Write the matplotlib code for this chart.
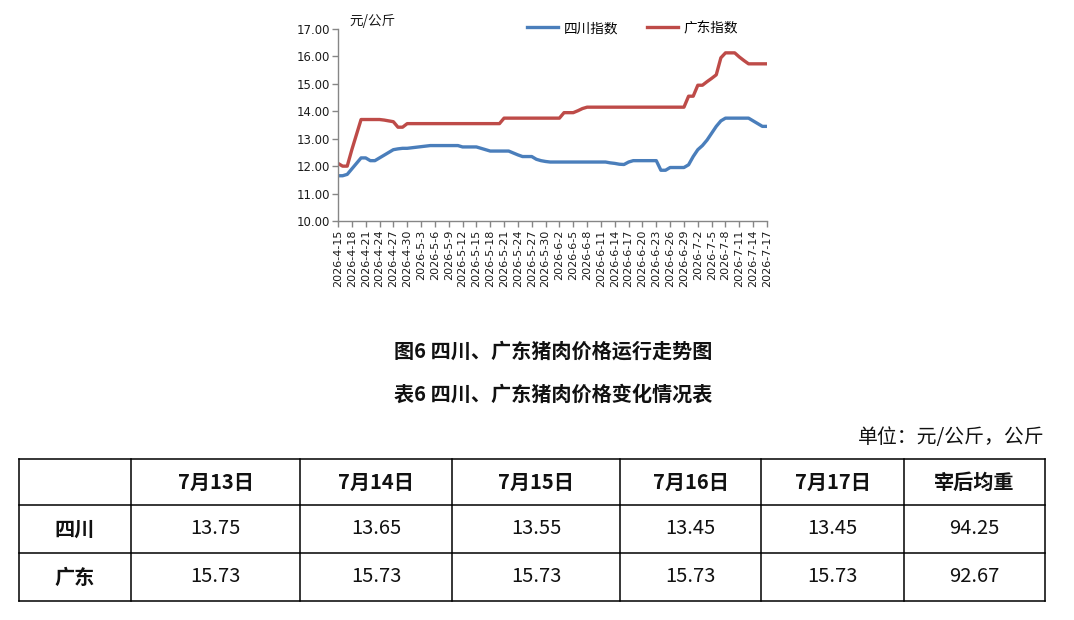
import matplotlib
matplotlib.use("Agg")
import matplotlib.pyplot as plt
import pandas as pd

# ---------------- data ----------------
dates = pd.date_range("2026-04-15", "2026-07-17", freq="D")
date_labels = [f"{d.year}-{d.month}-{d.day}" for d in dates]

sichuan = [
    11.65, 11.65, 11.70, 11.90, 12.10, 12.30, 12.30, 12.20, 12.20, 12.30,
    12.40, 12.50, 12.60, 12.63, 12.65, 12.65, 12.67, 12.69, 12.71, 12.73,
    12.75, 12.75, 12.75, 12.75, 12.75, 12.75, 12.75, 12.70, 12.70, 12.70,
    12.70, 12.65, 12.60, 12.55, 12.55, 12.55, 12.55, 12.55, 12.48, 12.41,
    12.35, 12.35, 12.35, 12.25, 12.20, 12.17, 12.15, 12.15, 12.15, 12.15,
    12.15, 12.15, 12.15, 12.15, 12.15, 12.15, 12.15, 12.15, 12.15, 12.12,
    12.10, 12.07, 12.06, 12.15, 12.20, 12.20, 12.20, 12.20, 12.20, 12.20,
    11.85, 11.85, 11.95, 11.95, 11.95, 11.95, 12.05, 12.35, 12.60, 12.75,
    12.95, 13.20, 13.45, 13.65, 13.75, 13.75, 13.75, 13.75, 13.75, 13.75,
    13.65, 13.55, 13.45, 13.45,
]
guangdong = [
    12.10, 12.00, 12.00, 12.60, 13.15, 13.70, 13.70, 13.70, 13.70, 13.70,
    13.68, 13.65, 13.62, 13.42, 13.42, 13.55, 13.55, 13.55, 13.55, 13.55,
    13.55, 13.55, 13.55, 13.55, 13.55, 13.55, 13.55, 13.55, 13.55, 13.55,
    13.55, 13.55, 13.55, 13.55, 13.55, 13.55, 13.75, 13.75, 13.75, 13.75,
    13.75, 13.75, 13.75, 13.75, 13.75, 13.75, 13.75, 13.75, 13.75, 13.95,
    13.95, 13.95, 14.02, 14.10, 14.15, 14.15, 14.15, 14.15, 14.15, 14.15,
    14.15, 14.15, 14.15, 14.15, 14.15, 14.15, 14.15, 14.15, 14.15, 14.15,
    14.15, 14.15, 14.15, 14.15, 14.15, 14.15, 14.55, 14.55, 14.95, 14.95,
    15.08, 15.20, 15.33, 15.95, 16.13, 16.13, 16.13, 15.98, 15.85, 15.73,
    15.73, 15.73, 15.73, 15.73,
]
series_names = ["四川指数", "广东指数"]
y_ticks = [10, 11, 12, 13, 14, 15, 16, 17]
y_unit = "元/公斤"

fig_title = "图6 四川、广东猪肉价格运行走势图"
table_title = "表6 四川、广东猪肉价格变化情况表"
table_unit = "单位：元/公斤，公斤"
table_header = ["", "7月13日", "7月14日", "7月15日", "7月16日", "7月17日", "宰后均重"]
table_rows = [
    ["四川", "13.75", "13.65", "13.55", "13.45", "13.45", "94.25"],
    ["广东", "15.73", "15.73", "15.73", "15.73", "15.73", "92.67"],
]

# ---------------- style ----------------
CJK = ["Noto Sans CJK SC", "DejaVu Sans"]
plt.rcParams["font.family"] = ["DejaVu Sans", "Noto Sans CJK SC"]
BLUE = "#4A7EBB"
RED = "#BE4B48"
GRAY = "#868686"

W, H = 1074, 620
fig = plt.figure(figsize=(W / 100, H / 100), dpi=100)

# chart axes (pixel box: x 338-767, y 29-221)
ax = fig.add_axes([338 / W, 1 - 221 / H, (767 - 338) / W, (221 - 29) / H])
x = list(range(len(dates)))
l1, = ax.plot(x, sichuan, color=BLUE, lw=2.4, solid_joinstyle="round")
l2, = ax.plot(x, guangdong, color=RED, lw=2.4, solid_joinstyle="round")
ax.set_xlim(0, len(dates) - 1)
ax.set_ylim(10, 17)
ax.set_yticks(y_ticks)
ax.set_yticklabels([f"{v:.2f}" for v in y_ticks], fontsize=8.4, color="#1a1a1a")
tick_pos = x[::3]
ax.set_xticks(tick_pos)
ax.set_xticklabels([date_labels[i] for i in tick_pos], rotation=90,
                   fontsize=8.0, color="#1a1a1a")
for s in ["top", "right"]:
    ax.spines[s].set_visible(False)
for s in ["left", "bottom"]:
    ax.spines[s].set_color(GRAY)
    ax.spines[s].set_linewidth(1.0)
ax.tick_params(axis="both", color=GRAY, length=4, width=1.0, pad=2)

fig.text(349 / W, 1 - 21 / H, y_unit, fontsize=9.8, family=CJK,
         ha="left", va="center", color="#1a1a1a")

fig.legend([l1, l2], series_names, loc="center left",
           bbox_to_anchor=(527 / W, 1 - 28 / H), ncol=2, frameon=False,
           prop={"family": CJK, "size": 9.8}, handlelength=2.3,
           handletextpad=0.4, columnspacing=2.1, borderpad=0,
           borderaxespad=0)

# overlay for captions and table
ov = fig.add_axes([0, 0, 1, 1])
ov.set_xlim(0, W)
ov.set_ylim(H, 0)
ov.axis("off")

ov.text(553, 351, fig_title, fontsize=14.5, fontweight="bold", family=CJK,
        ha="center", va="center", color="#111111")
ov.text(553, 394, table_title, fontsize=14.5, fontweight="bold", family=CJK,
        ha="center", va="center", color="#111111")
ov.text(1045, 437, table_unit, fontsize=14.3, family=CJK,
        ha="right", va="center", color="#111111")

col_x = [19, 131, 300, 452, 620, 761, 904, 1045]
row_y = [459, 505, 553, 601]
for yy in row_y:
    ov.plot([col_x[0], col_x[-1]], [yy, yy], color="black", lw=1.1,
            solid_capstyle="projecting")
for xx in col_x:
    ov.plot([xx, xx], [row_y[0], row_y[-1]], color="black", lw=1.1,
            solid_capstyle="projecting")

all_rows = [table_header] + table_rows
for r, row in enumerate(all_rows):
    yc = (row_y[r] + row_y[r + 1]) / 2
    for c, txt in enumerate(row):
        if not txt:
            continue
        xc = (col_x[c] + col_x[c + 1]) / 2
        bold = (r == 0) or (c == 0)
        ov.text(xc, yc, txt, fontsize=14.5, family=CJK,
                fontweight="bold" if bold else "normal",
                ha="center", va="center", color="#111111")

fig.savefig("out.png", dpi=100)
